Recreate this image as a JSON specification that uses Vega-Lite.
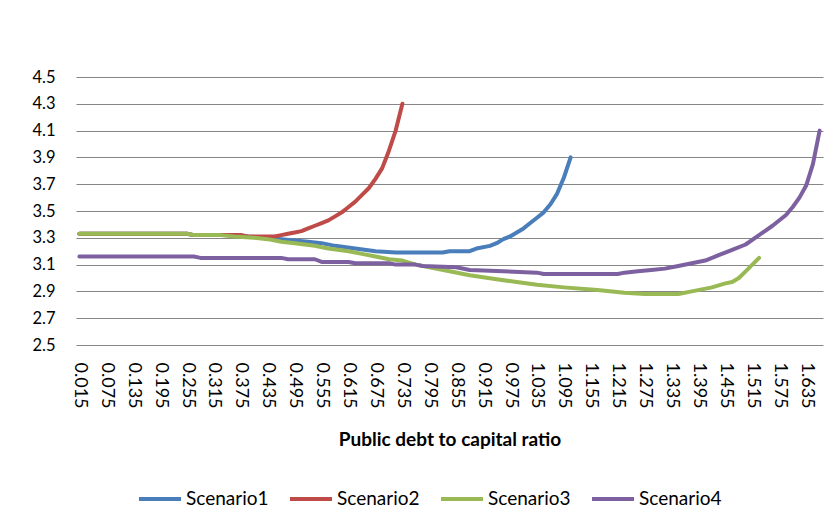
{
  "$schema": "https://vega.github.io/schema/vega-lite/v6.json",
  "width": 747,
  "height": 268,
  "autosize": "none",
  "padding": {"left": 76, "top": 77, "right": 13, "bottom": 183},
  "background": "white",
  "config": {
    "font": "Lato",
    "view": {"stroke": null},
    "axis": {"labelFont": "Lato", "titleFont": "Lato", "labelColor": "#000000", "titleColor": "#000000"},
    "legend": {"labelFont": "Lato", "labelColor": "#000000"}
  },
  "data": {
    "values": [
      {"series": "Scenario1", "x": 0.015, "y": 3.33},
      {"series": "Scenario1", "x": 0.255, "y": 3.33},
      {"series": "Scenario1", "x": 0.27, "y": 3.32},
      {"series": "Scenario1", "x": 0.375, "y": 3.32},
      {"series": "Scenario1", "x": 0.39, "y": 3.31},
      {"series": "Scenario1", "x": 0.435, "y": 3.3},
      {"series": "Scenario1", "x": 0.465, "y": 3.29},
      {"series": "Scenario1", "x": 0.525, "y": 3.27},
      {"series": "Scenario1", "x": 0.555, "y": 3.26},
      {"series": "Scenario1", "x": 0.585, "y": 3.24},
      {"series": "Scenario1", "x": 0.63, "y": 3.22},
      {"series": "Scenario1", "x": 0.675, "y": 3.2},
      {"series": "Scenario1", "x": 0.72, "y": 3.19},
      {"series": "Scenario1", "x": 0.825, "y": 3.19},
      {"series": "Scenario1", "x": 0.84, "y": 3.2},
      {"series": "Scenario1", "x": 0.885, "y": 3.2},
      {"series": "Scenario1", "x": 0.9, "y": 3.22},
      {"series": "Scenario1", "x": 0.93, "y": 3.24},
      {"series": "Scenario1", "x": 0.945, "y": 3.26},
      {"series": "Scenario1", "x": 0.96, "y": 3.29},
      {"series": "Scenario1", "x": 0.975, "y": 3.31},
      {"series": "Scenario1", "x": 0.99, "y": 3.34},
      {"series": "Scenario1", "x": 1.005, "y": 3.37},
      {"series": "Scenario1", "x": 1.02, "y": 3.41},
      {"series": "Scenario1", "x": 1.035, "y": 3.45},
      {"series": "Scenario1", "x": 1.05, "y": 3.49},
      {"series": "Scenario1", "x": 1.065, "y": 3.55},
      {"series": "Scenario1", "x": 1.08, "y": 3.63},
      {"series": "Scenario1", "x": 1.095, "y": 3.75},
      {"series": "Scenario1", "x": 1.11, "y": 3.9},
      {"series": "Scenario2", "x": 0.015, "y": 3.33},
      {"series": "Scenario2", "x": 0.255, "y": 3.33},
      {"series": "Scenario2", "x": 0.27, "y": 3.32},
      {"series": "Scenario2", "x": 0.375, "y": 3.32},
      {"series": "Scenario2", "x": 0.39, "y": 3.31},
      {"series": "Scenario2", "x": 0.45, "y": 3.31},
      {"series": "Scenario2", "x": 0.465, "y": 3.32},
      {"series": "Scenario2", "x": 0.48, "y": 3.33},
      {"series": "Scenario2", "x": 0.495, "y": 3.34},
      {"series": "Scenario2", "x": 0.51, "y": 3.35},
      {"series": "Scenario2", "x": 0.525, "y": 3.37},
      {"series": "Scenario2", "x": 0.54, "y": 3.39},
      {"series": "Scenario2", "x": 0.555, "y": 3.41},
      {"series": "Scenario2", "x": 0.57, "y": 3.43},
      {"series": "Scenario2", "x": 0.585, "y": 3.46},
      {"series": "Scenario2", "x": 0.6, "y": 3.49},
      {"series": "Scenario2", "x": 0.615, "y": 3.53},
      {"series": "Scenario2", "x": 0.63, "y": 3.57},
      {"series": "Scenario2", "x": 0.645, "y": 3.62},
      {"series": "Scenario2", "x": 0.66, "y": 3.67},
      {"series": "Scenario2", "x": 0.675, "y": 3.74},
      {"series": "Scenario2", "x": 0.69, "y": 3.82},
      {"series": "Scenario2", "x": 0.705, "y": 3.95},
      {"series": "Scenario2", "x": 0.72, "y": 4.1},
      {"series": "Scenario2", "x": 0.735, "y": 4.3},
      {"series": "Scenario3", "x": 0.015, "y": 3.33},
      {"series": "Scenario3", "x": 0.255, "y": 3.33},
      {"series": "Scenario3", "x": 0.27, "y": 3.32},
      {"series": "Scenario3", "x": 0.33, "y": 3.32},
      {"series": "Scenario3", "x": 0.36, "y": 3.31},
      {"series": "Scenario3", "x": 0.405, "y": 3.3},
      {"series": "Scenario3", "x": 0.435, "y": 3.29},
      {"series": "Scenario3", "x": 0.465, "y": 3.27},
      {"series": "Scenario3", "x": 0.495, "y": 3.26},
      {"series": "Scenario3", "x": 0.54, "y": 3.24},
      {"series": "Scenario3", "x": 0.57, "y": 3.22},
      {"series": "Scenario3", "x": 0.615, "y": 3.2},
      {"series": "Scenario3", "x": 0.645, "y": 3.18},
      {"series": "Scenario3", "x": 0.675, "y": 3.16},
      {"series": "Scenario3", "x": 0.705, "y": 3.14},
      {"series": "Scenario3", "x": 0.735, "y": 3.13},
      {"series": "Scenario3", "x": 0.765, "y": 3.1},
      {"series": "Scenario3", "x": 0.795, "y": 3.08},
      {"series": "Scenario3", "x": 0.84, "y": 3.05},
      {"series": "Scenario3", "x": 0.885, "y": 3.02},
      {"series": "Scenario3", "x": 0.945, "y": 2.99},
      {"series": "Scenario3", "x": 0.99, "y": 2.97},
      {"series": "Scenario3", "x": 1.035, "y": 2.95},
      {"series": "Scenario3", "x": 1.095, "y": 2.93},
      {"series": "Scenario3", "x": 1.17, "y": 2.91},
      {"series": "Scenario3", "x": 1.23, "y": 2.89},
      {"series": "Scenario3", "x": 1.275, "y": 2.88},
      {"series": "Scenario3", "x": 1.35, "y": 2.88},
      {"series": "Scenario3", "x": 1.38, "y": 2.9},
      {"series": "Scenario3", "x": 1.425, "y": 2.93},
      {"series": "Scenario3", "x": 1.455, "y": 2.96},
      {"series": "Scenario3", "x": 1.47, "y": 2.97},
      {"series": "Scenario3", "x": 1.485, "y": 3.0},
      {"series": "Scenario3", "x": 1.5, "y": 3.05},
      {"series": "Scenario3", "x": 1.515, "y": 3.1},
      {"series": "Scenario3", "x": 1.53, "y": 3.15},
      {"series": "Scenario4", "x": 0.015, "y": 3.16},
      {"series": "Scenario4", "x": 0.27, "y": 3.16},
      {"series": "Scenario4", "x": 0.285, "y": 3.15},
      {"series": "Scenario4", "x": 0.465, "y": 3.15},
      {"series": "Scenario4", "x": 0.48, "y": 3.14},
      {"series": "Scenario4", "x": 0.54, "y": 3.14},
      {"series": "Scenario4", "x": 0.555, "y": 3.12},
      {"series": "Scenario4", "x": 0.615, "y": 3.12},
      {"series": "Scenario4", "x": 0.63, "y": 3.11},
      {"series": "Scenario4", "x": 0.705, "y": 3.11},
      {"series": "Scenario4", "x": 0.72, "y": 3.1},
      {"series": "Scenario4", "x": 0.765, "y": 3.1},
      {"series": "Scenario4", "x": 0.78, "y": 3.09},
      {"series": "Scenario4", "x": 0.855, "y": 3.08},
      {"series": "Scenario4", "x": 0.885, "y": 3.06},
      {"series": "Scenario4", "x": 0.96, "y": 3.05},
      {"series": "Scenario4", "x": 1.035, "y": 3.04},
      {"series": "Scenario4", "x": 1.05, "y": 3.03},
      {"series": "Scenario4", "x": 1.215, "y": 3.03},
      {"series": "Scenario4", "x": 1.23, "y": 3.04},
      {"series": "Scenario4", "x": 1.26, "y": 3.05},
      {"series": "Scenario4", "x": 1.29, "y": 3.06},
      {"series": "Scenario4", "x": 1.32, "y": 3.07},
      {"series": "Scenario4", "x": 1.35, "y": 3.09},
      {"series": "Scenario4", "x": 1.38, "y": 3.11},
      {"series": "Scenario4", "x": 1.41, "y": 3.13},
      {"series": "Scenario4", "x": 1.44, "y": 3.17},
      {"series": "Scenario4", "x": 1.47, "y": 3.21},
      {"series": "Scenario4", "x": 1.5, "y": 3.25},
      {"series": "Scenario4", "x": 1.53, "y": 3.32},
      {"series": "Scenario4", "x": 1.56, "y": 3.39},
      {"series": "Scenario4", "x": 1.59, "y": 3.47},
      {"series": "Scenario4", "x": 1.605, "y": 3.53},
      {"series": "Scenario4", "x": 1.62, "y": 3.6},
      {"series": "Scenario4", "x": 1.635, "y": 3.69},
      {"series": "Scenario4", "x": 1.65, "y": 3.85},
      {"series": "Scenario4", "x": 1.665, "y": 4.1}
    ]
  },
  "mark": {"type": "line", "strokeWidth": 4, "strokeCap": "round", "strokeJoin": "round"},
  "encoding": {
    "x": {
      "field": "x",
      "type": "quantitative",
      "scale": {"domain": [0.0075, 1.6725], "nice": false, "zero": false},
      "axis": {
        "title": "Public debt to capital  ratio",
        "titleFontSize": 19,
        "titleFontWeight": "bold",
        "titlePadding": 22,
        "values": [0.015, 0.075, 0.135, 0.195, 0.255, 0.315, 0.375, 0.435, 0.495, 0.555, 0.615, 0.675, 0.735, 0.795, 0.855, 0.915, 0.975, 1.035, 1.095, 1.155, 1.215, 1.275, 1.335, 1.395, 1.455, 1.515, 1.575, 1.635],
        "format": ".3f",
        "labelAngle": 90,
        "labelFontSize": 18,
        "labelPadding": 17,
        "labelOverlap": false,
        "labelFlush": false,
        "domain": false,
        "ticks": false,
        "grid": false
      }
    },
    "y": {
      "field": "y",
      "type": "quantitative",
      "scale": {"domain": [2.5, 4.5], "nice": false, "zero": false},
      "axis": {
        "title": null,
        "values": [2.5, 2.7, 2.9, 3.1, 3.3, 3.5, 3.7, 3.9, 4.1, 4.3, 4.5],
        "format": ".1f",
        "labelFontSize": 16.5,
        "labelPadding": 21,
        "labelOverlap": false,
        "labelFlush": false,
        "domain": false,
        "ticks": false,
        "grid": true,
        "gridColor": "#868686",
        "gridWidth": 1
      }
    },
    "color": {
      "field": "series",
      "type": "nominal",
      "scale": {"domain": ["Scenario1", "Scenario2", "Scenario3", "Scenario4"], "range": ["#4A7EBB", "#BE4B48", "#98B954", "#7D60A0"]},
      "legend": {
        "title": null,
        "orient": "none",
        "legendX": 61,
        "legendY": 399,
        "direction": "horizontal",
        "symbolType": "stroke",
        "symbolSize": 1764,
        "symbolStrokeWidth": 4,
        "labelFontSize": 19,
        "labelOffset": 3,
        "columnPadding": 13
      }
    }
  }
}
